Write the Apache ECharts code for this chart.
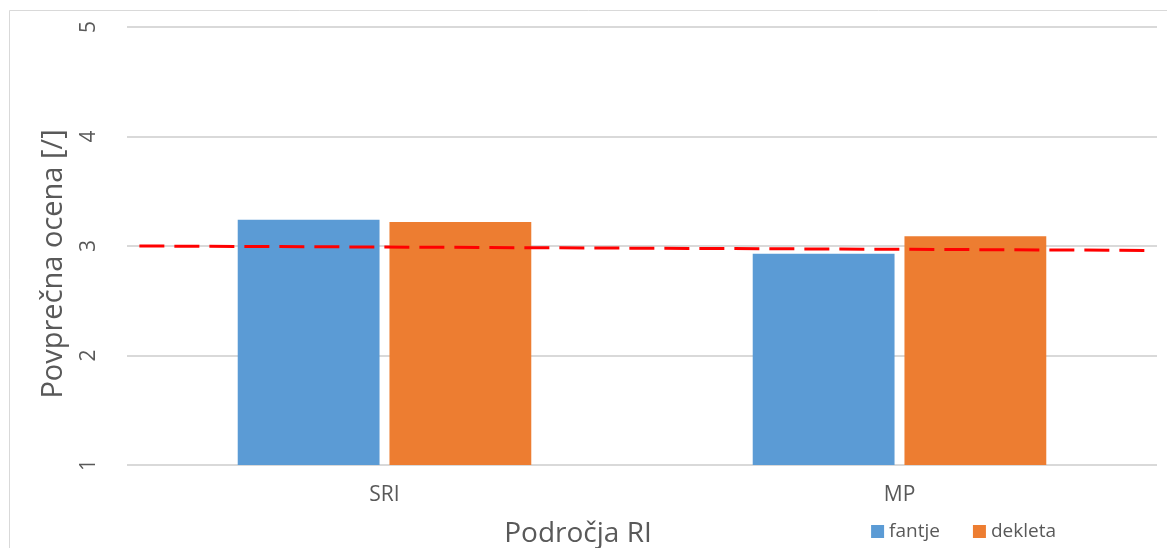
<!DOCTYPE html>
<html>
<head>
<meta charset="utf-8">
<script src="https://cdn.jsdelivr.net/npm/echarts@6/dist/echarts.min.js"></script>
<style>
  html, body { margin: 0; padding: 0; background: #ffffff; }
  #chart { width: 1167px; height: 548px; }
</style>
</head>
<body>
<div id="chart"></div>
<script>
// Average scores by area, split by group
const categories = ['SRI', 'MP'];
const fantje = [3.24, 2.93];
const dekleta = [3.22, 3.09];
const yTicks = [1, 2, 3, 4, 5];
// Reference line: start and end value across the plot width
const refLineX = [0.012, 0.988];
const refLineY = [3.0, 2.96];

const textColor = '#595959';
const font = 'Open Sans';

const chart = echarts.init(document.getElementById('chart'), null, { renderer: 'canvas' });

chart.setOption({
  backgroundColor: '#ffffff',
  animation: false,
  textStyle: { fontFamily: font, color: textColor },
  graphic: [{
    type: 'rect',
    shape: { x: 9.5, y: 10.5, width: 2000, height: 2000 },
    style: { fill: 'none', stroke: '#d9d9d9', lineWidth: 1 },
    silent: true,
    z: -10
  }],
  grid: {
    left: 127, right: 10, top: 27, bottom: 83,
    containLabel: false,
    outerBoundsMode: 'none'
  },
  legend: {
    data: ['fantje', 'dekleta'],
    right: 106,
    top: 517,
    itemWidth: 13,
    itemHeight: 13,
    itemGap: 33,
    icon: 'rect',
    textStyle: { fontFamily: font, fontSize: 19, color: textColor }
  },
  xAxis: [{
    type: 'category',
    data: categories,
    name: 'Področja RI',
    nameLocation: 'middle',
    nameGap: 55,
    nameTextStyle: { fontFamily: font, fontSize: 28, color: textColor, padding: [0, 0, 0, -128] },
    axisLine: { show: false },
    axisTick: { show: false },
    axisLabel: { fontFamily: font, fontSize: 21, color: textColor, margin: 20 }
  }, {
    type: 'value',
    min: 0,
    max: 1,
    show: false
  }],
  yAxis: {
    type: 'value',
    min: yTicks[0],
    max: yTicks[yTicks.length - 1],
    interval: 1,
    name: 'Povprečna ocena [/]',
    nameLocation: 'middle',
    nameGap: 59,
    nameRotate: 90,
    nameTextStyle: { fontFamily: font, fontSize: 29, color: textColor, padding: [0, 36, 0, 0] },
    axisLine: { show: false },
    axisTick: { show: false },
    axisLabel: { fontFamily: font, fontSize: 21, color: textColor, rotate: 90, margin: 27 },
    splitLine: { lineStyle: { color: '#d9d9d9', width: 2 } }
  },
  series: [{
    name: 'fantje',
    type: 'bar',
    data: fantje,
    barGap: '7%',
    barCategoryGap: '43%',
    itemStyle: { color: '#5b9bd5' }
  }, {
    name: 'dekleta',
    type: 'bar',
    data: dekleta,
    itemStyle: { color: '#ed7d31' }
  }, {
    name: 'ref',
    type: 'line',
    xAxisIndex: 1,
    data: refLineX.map((x, i) => [x, refLineY[i]]),
    symbol: 'none',
    lineStyle: { color: '#ff0000', width: 3, type: [25, 10] },
    z: 5
  }]
});
</script>
</body>
</html>
